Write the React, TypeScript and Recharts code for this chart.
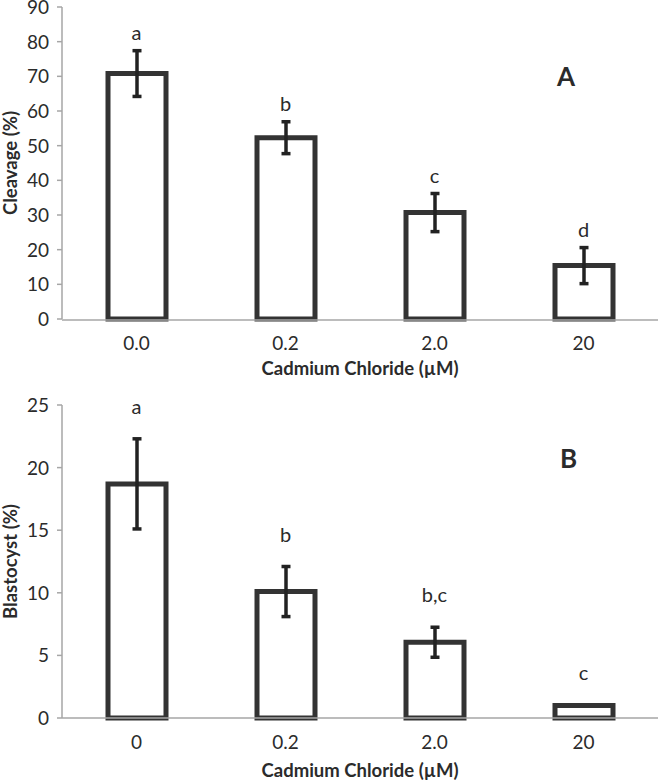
import { Bar, BarChart, ErrorBar, ReferenceDot, XAxis, YAxis } from 'recharts';

const cleavageDoses = ['0.0', '0.2', '2.0', '20'];
const cleavageMeans = [70.8, 52.3, 30.7, 15.4];
const cleavageErrors = [6.6, 4.6, 5.5, 5.2];
const cleavageLetters = ['a', 'b', 'c', 'd'];
const cleavageTicks = [0, 10, 20, 30, 40, 50, 60, 70, 80, 90];

const blastDoses = ['0', '0.2', '2.0', '20'];
const blastMeans = [18.7, 10.1, 6.05, 1.0];
const blastErrors = [3.6, 2.0, 1.2, 0];
const blastLetters = ['a', 'b', 'b,c', 'c'];
const blastTicks = [0, 5, 10, 15, 20, 25];

const AXIS = '#a6a6a6';
const INK = '#2b2b2b';
const FONT = 'Lato, "Open Sans", sans-serif';

const xTick = (props: any) => (
  <text x={props.x} y={props.y} dy={15} textAnchor="middle" fill={INK} fontSize={19} fontFamily={FONT}>
    {props.payload.value}
  </text>
);

const yTick = (props: any) => (
  <text x={props.x} y={props.y} dy={7} textAnchor="end" fill={INK} fontSize={19} fontFamily={FONT}>
    {props.payload.value}
  </text>
);

const LetterLabel = (props: any) => {
  const vb = props.viewBox || {};
  return (
    <text
      x={vb.x + (vb.width || 0) / 2}
      y={vb.y - props.lift}
      textAnchor="middle"
      fill={INK}
      fontSize={20}
      fontFamily={FONT}
    >
      {props.text}
    </text>
  );
};

interface PanelProps {
  doses: string[];
  means: number[];
  errors: number[];
  letters: string[];
  ticks: number[];
  yTitle: string;
  height: number;
  marginTop: number;
  marginBottom: number;
  letterOffset: number;
  titleOffset: number;
  boundaryTicks: boolean;
}

function Panel(p: PanelProps) {
  const data = p.doses.map((dose, i) => ({
    dose,
    value: p.means[i],
    err: p.errors[i],
    letter: p.letters[i]
  }));
  const yMax = p.ticks[p.ticks.length - 1];

  return (
    <BarChart
      width={661}
      height={p.height}
      data={data}
      margin={{ top: p.marginTop, right: 3, bottom: p.marginBottom, left: 0 }}
      barCategoryGap={0}
    >
      {p.boundaryTicks && (
        <XAxis
          xAxisId="grid"
          type="number"
          domain={[0, p.doses.length]}
          ticks={p.doses.map((_, i) => i).concat(p.doses.length)}
          tick={false}
          height={1}
          tickSize={6}
          axisLine={{ stroke: AXIS, strokeWidth: 1.5 }}
          tickLine={{ stroke: AXIS, strokeWidth: 1.5 }}
        />
      )}
      <XAxis
        xAxisId="cat"
        dataKey="dose"
        height={1}
        tickSize={6}
        tickMargin={10}
        tickLine={false}
        axisLine={p.boundaryTicks ? false : { stroke: AXIS, strokeWidth: 1.5 }}
        tick={xTick}
        label={{
          value: 'Cadmium Chloride (µM)',
          position: 'bottom',
          offset: p.titleOffset,
          fill: INK,
          fontSize: 18.5,
          fontWeight: 700,
          fontFamily: FONT
        }}
      />
      <YAxis
        width={62}
        domain={[0, yMax]}
        ticks={p.ticks}
        interval={0}
        tickSize={5}
        tickMargin={8}
        axisLine={{ stroke: AXIS, strokeWidth: 1.5 }}
        tickLine={{ stroke: AXIS, strokeWidth: 1.5 }}
        tick={yTick}
        label={{
          value: p.yTitle,
          angle: -90,
          position: 'insideLeft',
          offset: 10,
          fill: INK,
          fontSize: 18.5,
          fontWeight: 700,
          fontFamily: FONT,
          style: { textAnchor: 'middle' }
        }}
      />
      <Bar
        xAxisId="cat"
        dataKey="value"
        fill="#ffffff"
        stroke="#333333"
        strokeWidth={5}
        barSize={58}
        isAnimationActive={false}
      >
        <ErrorBar dataKey="err" direction="y" width={4.5} stroke="#222222" strokeWidth={3.5} />
      </Bar>
      {data.map((d) => (
        <ReferenceDot
          key={d.dose}
          xAxisId="cat"
          x={d.dose}
          y={d.value + d.err}
          r={0}
          stroke="none"
          label={<LetterLabel text={d.letter} lift={p.letterOffset} />}
        />
      ))}
    </BarChart>
  );
}

export default function App() {
  const panelLetter = {
    position: 'absolute' as const,
    fontFamily: FONT,
    fontWeight: 700,
    fontSize: 26,
    lineHeight: 1,
    color: INK
  };
  return (
    <div style={{ position: 'absolute', left: 0, top: 0, width: 661, height: 783, background: '#fff' }}>
      <Panel
        doses={cleavageDoses}
        means={cleavageMeans}
        errors={cleavageErrors}
        letters={cleavageLetters}
        ticks={cleavageTicks}
        yTitle="Cleavage (%)"
        height={390}
        marginTop={7}
        marginBottom={69}
        letterOffset={11}
        titleOffset={42}
        boundaryTicks
      />
      <Panel
        doses={blastDoses}
        means={blastMeans}
        errors={blastErrors}
        letters={blastLetters}
        ticks={blastTicks}
        yTitle="Blastocyst (%)"
        height={393}
        marginTop={15}
        marginBottom={64}
        letterOffset={25}
        titleOffset={45}
        boundaryTicks={false}
      />
      <div style={{ ...panelLetter, left: 557, top: 63 }}>A</div>
      <div style={{ ...panelLetter, left: 560, top: 445 }}>B</div>
    </div>
  );
}
